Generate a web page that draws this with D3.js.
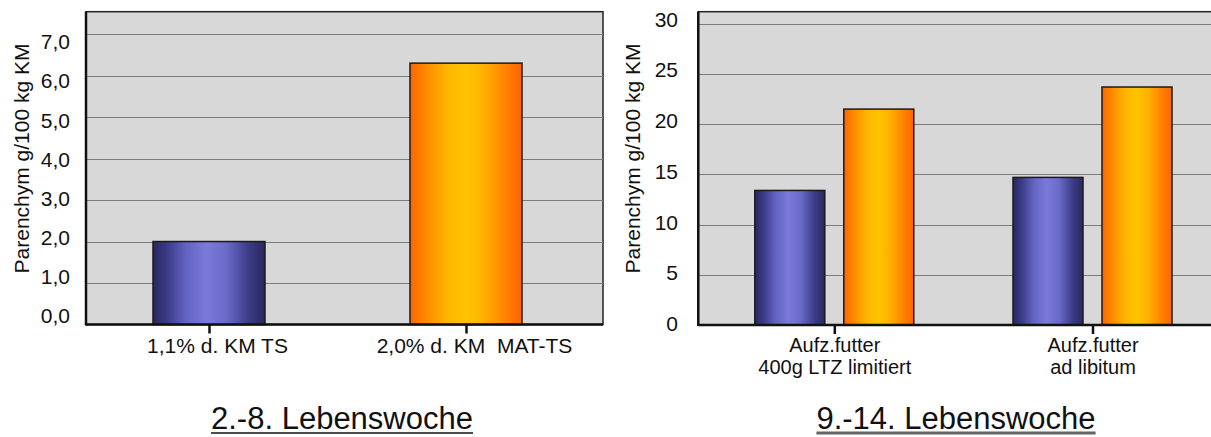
<!DOCTYPE html>
<html><head><meta charset="utf-8">
<script src="https://cdn.jsdelivr.net/npm/d3@7"></script>
<style>
html,body{margin:0;padding:0;background:#fff;}
svg{display:block;font-family:Arial,"Liberation Sans",Helvetica,sans-serif;}
</style></head>
<body>
<svg id="chart" width="1211" height="437"></svg>
<script>
// ---------- DATA ----------
const leftCategories = ["1,1% d. KM TS", "2,0% d. KM  MAT-TS"];
const leftValues = [2.0, 6.3];
const leftTickValues = [0, 1, 2, 3, 4, 5, 6, 7];
const leftTickLabels = ["0,0", "1,0", "2,0", "3,0", "4,0", "5,0", "6,0", "7,0"];

const rightCategories = [["Aufz.futter", "400g LTZ limitiert"], ["Aufz.futter", "ad libitum"]];
const rightSeries = ["blue", "orange"];
const rightBlueValues = [13.4, 14.7];
const rightOrangeValues = [21.5, 23.7];
const rightTickValues = [0, 5, 10, 15, 20, 25, 30];
const rightTickLabels = ["0", "5", "10", "15", "20", "25", "30"];

const yTitle = "Parenchym g/100 kg KM";
const leftTitle = "2.-8. Lebenswoche";
const rightTitle = "9.-14. Lebenswoche";

// ---------- SETUP ----------
const svg = d3.select("#chart");
const defs = svg.append("defs");

function gradient(id, stops) {
  const g = defs.append("linearGradient").attr("id", id)
    .attr("x1", "0%").attr("x2", "100%").attr("y1", "0%").attr("y2", "0%");
  stops.forEach(s => g.append("stop").attr("offset", s[0]).attr("stop-color", s[1]));
}
gradient("gBlue", [["0%", "#27275f"], ["12%", "#3a3a86"], ["30%", "#6464c4"], ["48%", "#7a7ad9"], ["66%", "#6a6ac8"], ["85%", "#3c3c88"], ["100%", "#28285f"]]);
gradient("gOrange", [["0%", "#ff6400"], ["14%", "#ff8a00"], ["34%", "#ffb800"], ["50%", "#ffc400"], ["66%", "#ffb000"], ["86%", "#ff8000"], ["100%", "#ff6400"]]);
const fills = { blue: "url(#gBlue)", orange: "url(#gOrange)" };

function plotFrame(p, y, gridVals) {
  const g = svg.append("g");
  g.append("rect").attr("x", p.x0).attr("y", p.y0)
    .attr("width", p.x1 - p.x0).attr("height", p.y1 - p.y0)
    .attr("fill", "#d8d8d8").attr("stroke", "#222").attr("stroke-width", 1.5);
  g.selectAll("line.grid").data(gridVals).enter().append("line")
    .attr("x1", p.x0).attr("x2", p.x1)
    .attr("y1", d => Math.round(y(d)) + 0.5).attr("y2", d => Math.round(y(d)) + 0.5)
    .attr("stroke", "#7c7c7c").attr("stroke-width", 1.2);
  return g;
}

function axesLines(p) {
  svg.append("line").attr("x1", p.x0).attr("x2", p.x0).attr("y1", p.y0).attr("y2", p.y1 + 1)
    .attr("stroke", "#111").attr("stroke-width", 2.5);
  svg.append("line").attr("x1", p.x0).attr("x2", p.x1).attr("y1", p.y1).attr("y2", p.y1)
    .attr("stroke", "#111").attr("stroke-width", 2.5);
}

function yLabels(labelScale, xPos, vals, labels, size) {
  const ax = d3.axisLeft(labelScale).tickValues(vals).tickSize(0)
    .tickFormat((d, i) => labels[i]);
  const g = svg.append("g").attr("transform", `translate(${xPos},0)`).call(ax);
  g.select(".domain").remove();
  g.selectAll("text").attr("font-size", size).attr("fill", "#111")
    .attr("font-family", "Arial, 'Liberation Sans', sans-serif").attr("dx", 0).attr("x", 0);
}

function yAxisTitle(x, yc) {
  svg.append("text").attr("transform", `translate(${x},${yc}) rotate(-90)`)
    .attr("text-anchor", "middle").attr("font-size", 21).attr("fill", "#111").text(yTitle);
}

function underlinedTitle(text, xc, yb, ulColor, ulWidth) {
  const t = svg.append("text").attr("x", xc).attr("y", yb).attr("text-anchor", "middle")
    .attr("font-size", 31).attr("fill", "#111").text(text);
  const w = t.node().getComputedTextLength();
  svg.append("line").attr("x1", xc - w / 2).attr("x2", xc + w / 2)
    .attr("y1", yb + 4).attr("y2", yb + 4).attr("stroke", ulColor).attr("stroke-width", ulWidth);
}

// ---------- LEFT CHART ----------
const pL = { x0: 86, x1: 603, y0: 11.7, y1: 324.5 };
const yL = d3.scaleLinear().domain([0, 7.54]).range([pL.y1, pL.y0]);
const yLlab = d3.scaleLinear().domain([0, 7]).range([316, 42]);
const xL = d3.scalePoint().domain(leftCategories).range([80.5, 594.5]).padding(0.5);
const barWL = 112;

plotFrame(pL, yL, leftTickValues.filter(v => v > 0));
svg.append("g").selectAll("rect").data(leftValues).enter().append("rect")
  .attr("x", (d, i) => xL(leftCategories[i]) - barWL / 2)
  .attr("width", barWL)
  .attr("y", d => yL(d)).attr("height", d => yL(0) - yL(d))
  .attr("fill", (d, i) => i === 0 ? fills.blue : fills.orange)
  .attr("stroke", "#1a1a1a").attr("stroke-width", 1.5);
axesLines(pL);
// category ticks + labels
const gxL = svg.append("g").attr("transform", `translate(0,${pL.y1})`)
  .call(d3.axisBottom(xL).tickSize(9).tickPadding(0));
gxL.select(".domain").remove();
gxL.selectAll(".tick line").attr("stroke", "#111").attr("stroke-width", 2.5);
gxL.selectAll(".tick text").attr("font-size", 21).attr("fill", "#111")
  .attr("font-family", "Arial, 'Liberation Sans', sans-serif")
  .style("white-space", "pre").attr("dx", 8).attr("dy", 0).attr("y", 28.5);
yLabels(yLlab, 70, leftTickValues, leftTickLabels, 21);
svg.selectAll("g").filter(function(){return false;});
yAxisTitle(29, 158.5);

// ---------- RIGHT CHART ----------
const pR = { x0: 698.3, x1: 1216, y0: 11.7, y1: 325 };
const yR = d3.scaleLinear().domain([0, 31.2]).range([pR.y1, pR.y0]);
const yRlab = d3.scaleLinear().domain([0, 30]).range([324, 19.5]);
const groupKeys = rightCategories.map(c => c.join(" | "));
const xR = d3.scalePoint().domain(groupKeys).range([705.2, 1221.6]).padding(0.5);
const xInner = d3.scaleBand().domain(rightSeries).range([-79.5, 79.5]).paddingInner(0.2135);

plotFrame(pR, yR, rightTickValues.filter(v => v > 0));
const seriesVals = { blue: rightBlueValues, orange: rightOrangeValues };
const barData = [];
groupKeys.forEach((k, i) => rightSeries.forEach(s => barData.push({ k, s, v: seriesVals[s][i] })));
svg.append("g").selectAll("rect").data(barData).enter().append("rect")
  .attr("x", d => xR(d.k) + xInner(d.s))
  .attr("width", xInner.bandwidth())
  .attr("y", d => yR(d.v)).attr("height", d => yR(0) - yR(d.v))
  .attr("fill", d => fills[d.s])
  .attr("stroke", "#1a1a1a").attr("stroke-width", 1.5);
axesLines(pR);
const gxR = svg.append("g").attr("transform", `translate(0,${pR.y1})`)
  .call(d3.axisBottom(xR).tickSize(9).tickFormat(""));
gxR.select(".domain").remove();
gxR.selectAll(".tick line").attr("stroke", "#111").attr("stroke-width", 2.5);
gxR.selectAll(".tick").each(function(d, i) {
  const t = d3.select(this).append("text").attr("text-anchor", "middle")
    .attr("font-size", 20).attr("fill", "#111")
    .attr("font-family", "Arial, 'Liberation Sans', sans-serif");
  rightCategories[i].forEach((line, j) => {
    t.append("tspan").attr("x", 0).attr("y", 27 + j * 21.5).text(line);
  });
});
yLabels(yRlab, 678, rightTickValues, rightTickLabels, 21);
yAxisTitle(640, 158.5);

// ---------- TITLES ----------
underlinedTitle(leftTitle, 342, 429, "#111", 1.5);
underlinedTitle(rightTitle, 956, 429, "#666", 3);
</script>
</body></html>
